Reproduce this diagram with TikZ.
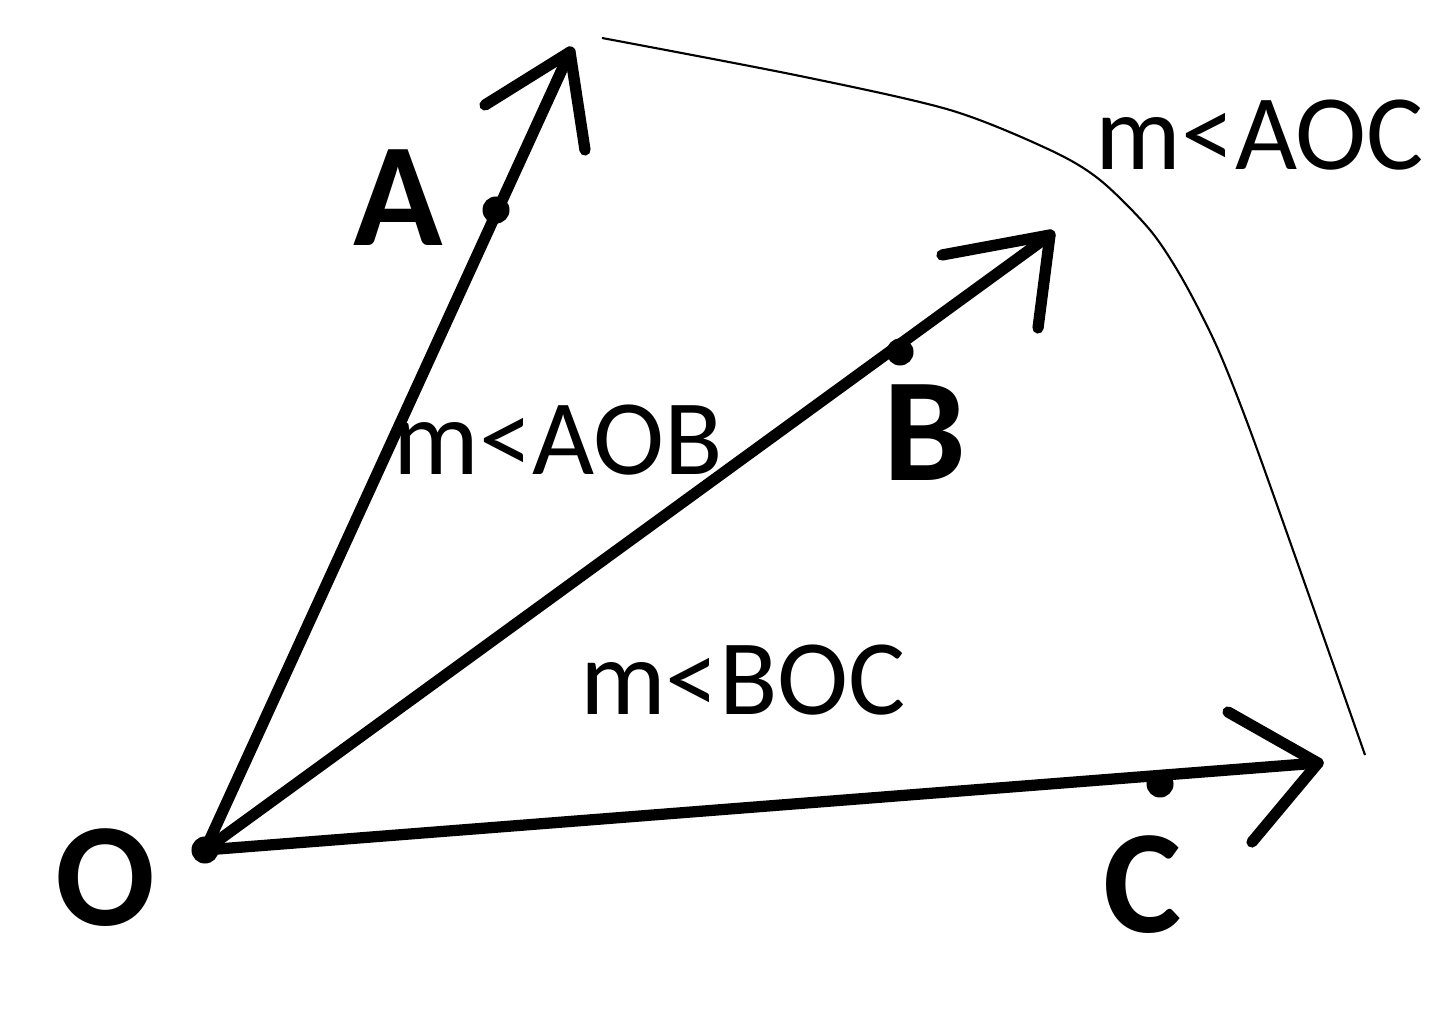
\documentclass[tikz,border=0pt]{standalone}
\usepackage{fontspec}
\setmainfont{Carlito}
\pgfdeclarelayer{bg}
\pgfsetlayers{bg,main}
\begin{document}
\begin{tikzpicture}[x=0.01cm, y=-0.01cm,
    ray/.style = {line width=3.2pt, line cap=round, line join=round},
    dot/.style = {circle, fill, inner sep=0pt, minimum size=0.27cm},
    pt/.style = {font=\fontsize{42}{42}\selectfont\bfseries},
    ang/.style = {font=\fontsize{30.5}{30.5}\selectfont}]
        \useasboundingbox (0,0) rectangle (1440,1013);
        \node[dot](O) at (205,850) {};
        \node[dot](A) at (496,210) {};
        \node[dot](B) at (900,352) {};
        \node[dot](C) at (1160,784) {};
        \coordinate (tA) at (570,52);
        \coordinate (tB) at (1050,235);
        \coordinate (tC) at (1318,763);
        \coordinate (a1) at (485,105);
        \coordinate (a2) at (585,150);
        \coordinate (b1) at (942,255);
        \coordinate (b2) at (1038,328);
        \coordinate (c1) at (1228,712);
        \coordinate (c2) at (1252,842);
        \node[pt](lO) at (105,878) {O};
        \node[pt](lA) at (398,198) {A};
        \node[pt](lB) at (925,433) {B};
        \node[pt](lC) at (1143,885) {C};
        \node[ang](mAOC) at (1260,135) {m<AOC};
        \node[ang](mAOB) at (558,440) {m<AOB};
        \node[ang](mBOC) at (743,680) {m<BOC};

        \begin{pgfonlayer}{bg}
        \draw[ray] (O.center) -- (tA);
        \draw[ray] (O.center) -- (tB);
        \draw[ray] (O.center) -- (tC);
        \draw[ray] (a1) -- (tA) -- (a2);
        \draw[ray] (b1) -- (tB) -- (b2);
        \draw[ray] (c1) -- (tC) -- (c2);
        \end{pgfonlayer}

        \draw[line width=0.6pt] plot[smooth] coordinates {(602,38) (800,76) (950,110) (1050,150) (1100,180) (1150,230) (1183,280) (1217,347) (1250,430) (1300,570) (1365,755)};
    \end{tikzpicture}
\end{document}
